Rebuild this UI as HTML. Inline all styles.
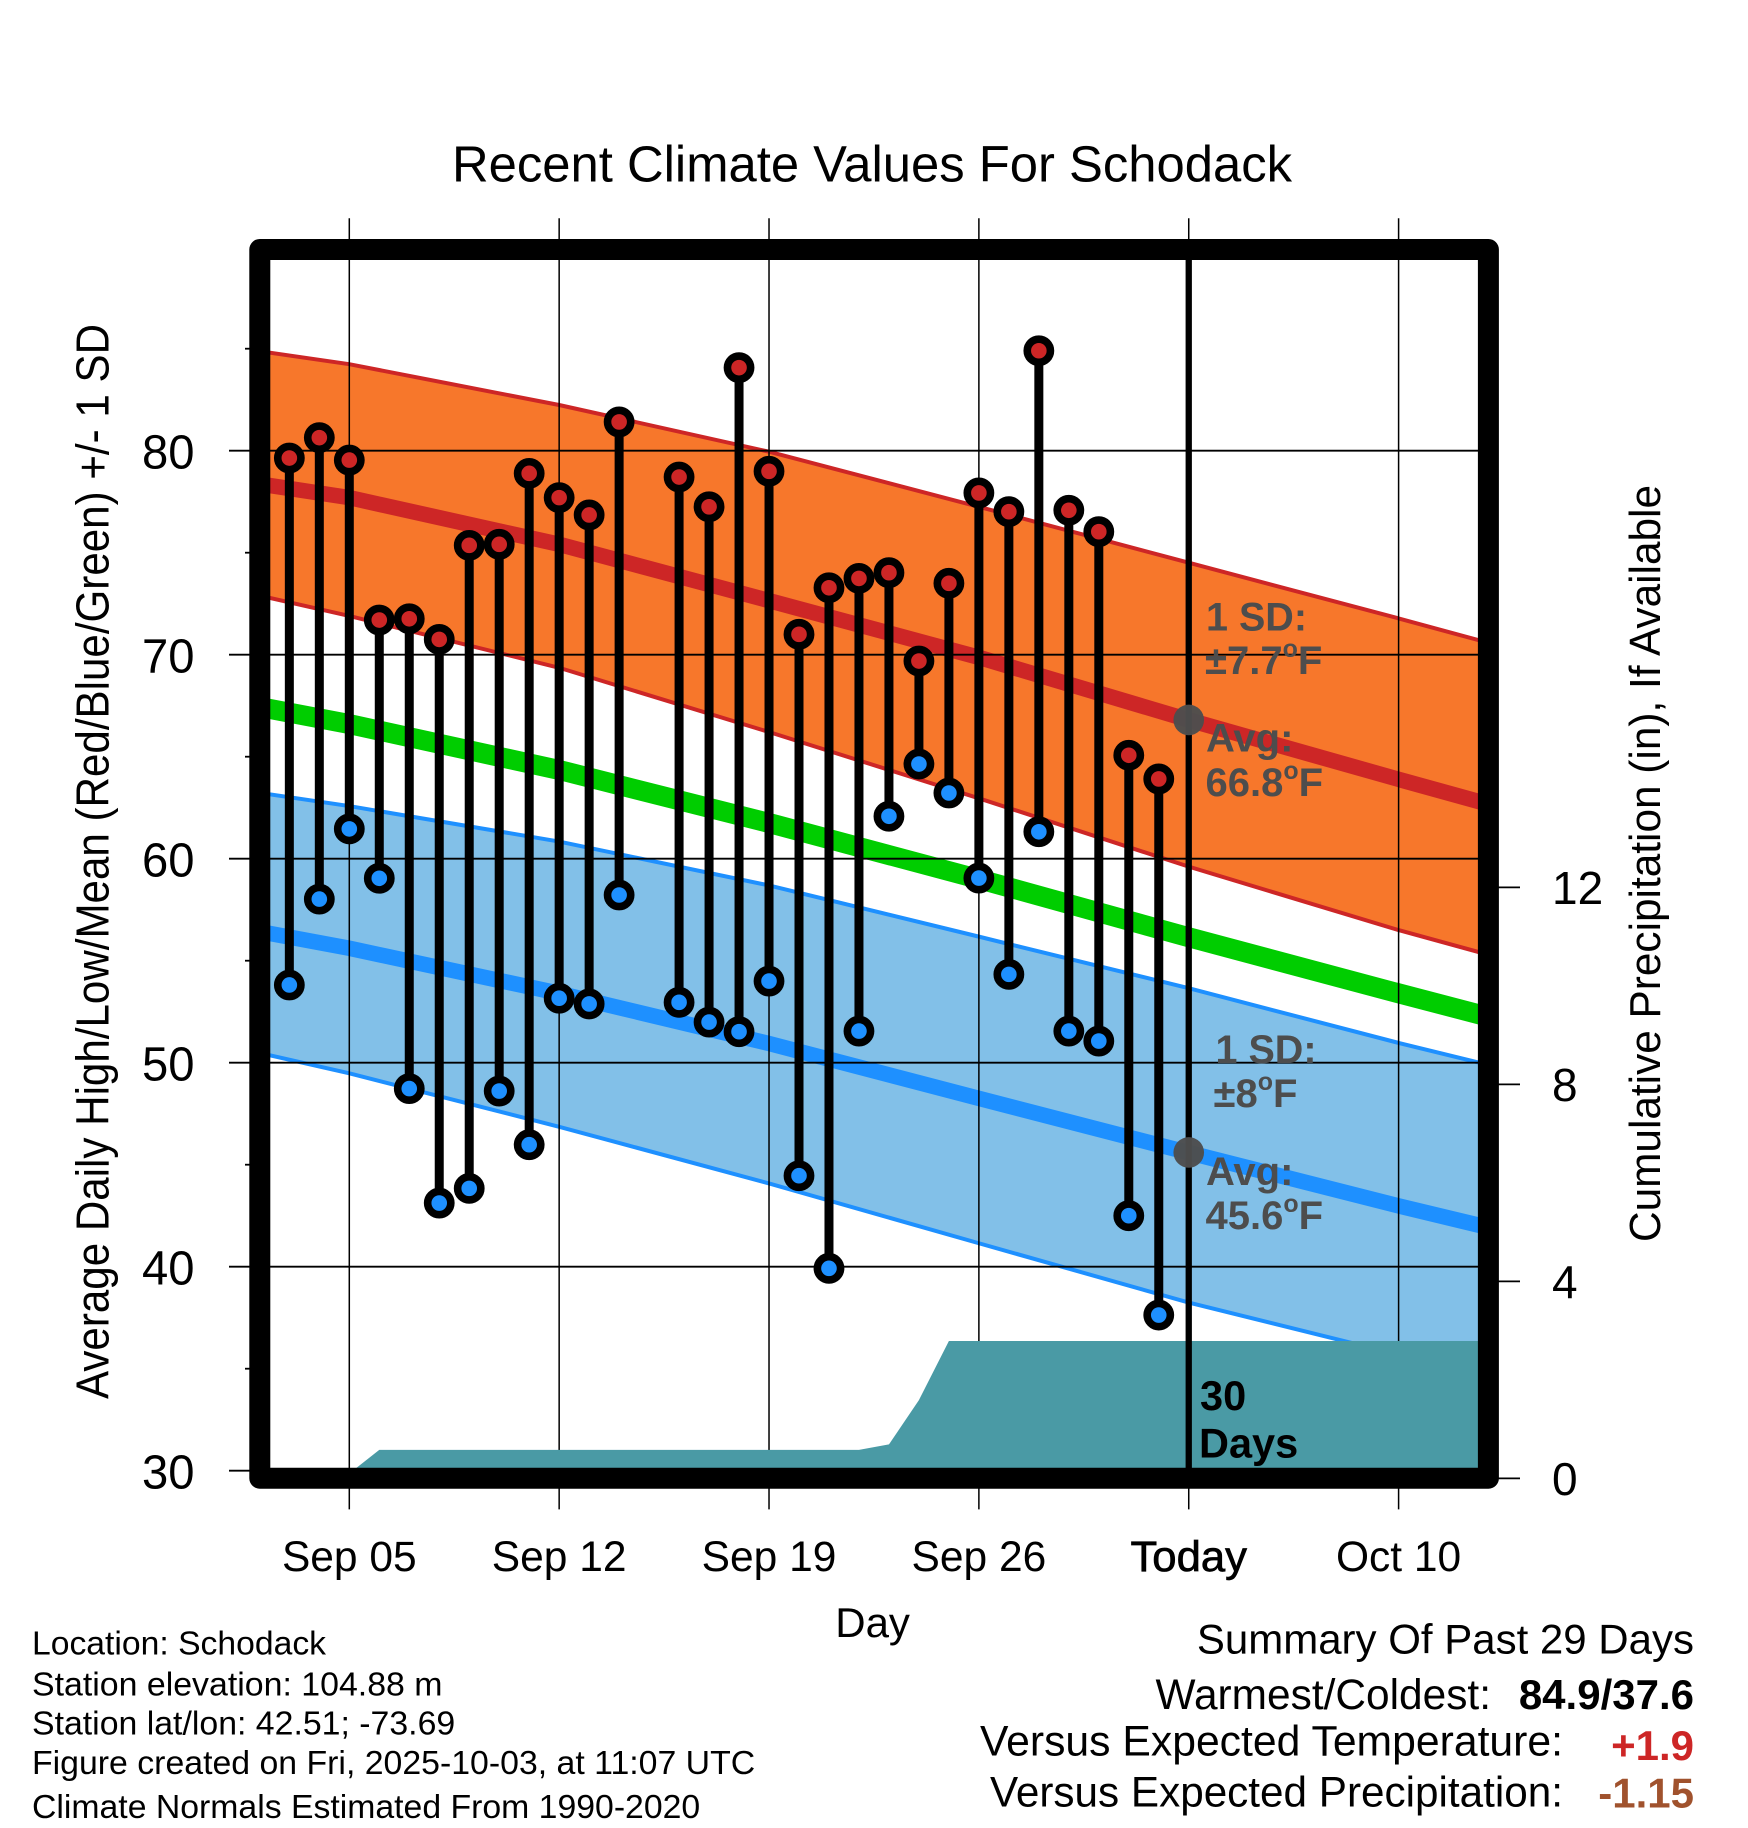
<!DOCTYPE html>
<html lang="en">
<head>
<meta charset="utf-8">
<title>Recent Climate Values For Schodack</title>
<style>
html,body{margin:0;padding:0;background:#fff;}
svg{display:block;}
text{font-family:"Liberation Sans",Arial,Helvetica,sans-serif;fill:#000;}
.b{font-weight:bold;}
.g{fill:#4d4d4d;font-weight:bold;}
</style>
</head>
<body>
<svg id="chart" xmlns="http://www.w3.org/2000/svg" width="1748" height="1828" viewBox="0 0 1748 1828">
  <defs>
    <clipPath id="plot-clip"><rect x="260" y="250" width="1228" height="1228"></rect></clipPath>
  </defs>
  <rect x="0" y="0" width="1748" height="1828" fill="#fff"></rect>

  <g id="layer-bands" clip-path="url(#plot-clip)"></g>
  <g id="layer-grid"></g>
  <g id="layer-precip" clip-path="url(#plot-clip)"></g>
  <line id="today-line" stroke="#000" stroke-width="6.3"></line>
  <g id="layer-temps"></g>
  <g id="layer-today"></g>

  <rect x="259.8" y="249.5" width="1228.6" height="1228.7" fill="none" stroke="#000" stroke-width="21" stroke-linejoin="round"></rect>
  <g id="layer-ticks"></g>

  <text x="452" y="181.7" font-size="51" textLength="840" lengthAdjust="spacingAndGlyphs">Recent Climate Values For Schodack</text>
  <text transform="translate(108.5,861.5) rotate(-90)" text-anchor="middle" font-size="46.5" textLength="1075" lengthAdjust="spacingAndGlyphs">Average Daily High/Low/Mean (Red/Blue/Green) +/- 1 SD</text>
  <text transform="translate(1660,863.5) rotate(-90)" text-anchor="middle" font-size="44" textLength="757" lengthAdjust="spacingAndGlyphs">Cumulative Precipitation (in), If Available</text>
  <text x="872.6" y="1637" text-anchor="middle" font-size="42">Day</text>

  <text class="g" x="1206" y="630.7" font-size="39.5">1 SD:</text>
  <text class="g" x="1205" y="674" font-size="40">±7.7<tspan font-size="25" dy="-17">o</tspan><tspan dy="17">F</tspan></text>
  <text class="g" x="1206" y="751.7" font-size="40">Avg:</text>
  <text class="g" x="1205.5" y="796" font-size="40">66.8<tspan font-size="25" dy="-17">o</tspan><tspan dy="17">F</tspan></text>
  <text class="g" x="1215.5" y="1063" font-size="39.5">1 SD:</text>
  <text class="g" x="1213.5" y="1107" font-size="40">±8<tspan font-size="25" dy="-17">o</tspan><tspan dy="17">F</tspan></text>
  <text class="g" x="1206" y="1185" font-size="40">Avg:</text>
  <text class="g" x="1205.5" y="1229" font-size="40">45.6<tspan font-size="25" dy="-17">o</tspan><tspan dy="17">F</tspan></text>
  <text class="b" x="1200" y="1410" font-size="41.5">30</text>
  <text class="b" x="1199" y="1457.5" font-size="41.5">Days</text>

  <text x="32" y="1654.5" font-size="33.5" textLength="294" lengthAdjust="spacingAndGlyphs">Location: Schodack</text>
  <text x="32" y="1695.6" font-size="33.5" textLength="410.5" lengthAdjust="spacingAndGlyphs">Station elevation: 104.88 m</text>
  <text x="32" y="1734.7" font-size="33.5" textLength="423.2" lengthAdjust="spacingAndGlyphs">Station lat/lon: 42.51; -73.69</text>
  <text x="32" y="1774" font-size="33.5" textLength="723.2" lengthAdjust="spacingAndGlyphs">Figure created on Fri, 2025-10-03, at 11:07 UTC</text>
  <text x="32" y="1817.8" font-size="33.5" textLength="668.2" lengthAdjust="spacingAndGlyphs">Climate Normals Estimated From 1990-2020</text>

  <text x="1694" y="1653.5" text-anchor="end" font-size="42">Summary Of Past 29 Days</text>
  <text x="1491" y="1709" text-anchor="end" font-size="42.5" textLength="335.5" lengthAdjust="spacingAndGlyphs">Warmest/Coldest:</text>
  <text class="b" x="1694" y="1709" text-anchor="end" font-size="42">84.9/37.6</text>
  <text x="1563" y="1755.6" text-anchor="end" font-size="42.5" textLength="583" lengthAdjust="spacingAndGlyphs">Versus Expected Temperature:</text>
  <text class="b" style="fill:#cd2626" x="1694" y="1760" text-anchor="end" font-size="42">+1.9</text>
  <text x="1563" y="1806.7" text-anchor="end" font-size="42.5" textLength="573" lengthAdjust="spacingAndGlyphs">Versus Expected Precipitation:</text>
  <text class="b" style="fill:#a0522d" x="1694" y="1807.6" text-anchor="end" font-size="42">-1.15</text>
</svg>

<script>
// ---- Data ----
const normalDays   = [-3, 0, 7, 14, 21, 28, 35, 38];
const highPlusSD   = [84.88, 84.24, 82.24, 79.95, 77.25, 74.51, 71.78, 70.58];
const highMean     = [78.37, 77.70, 75.41, 72.65, 69.87, 66.80, 63.89, 62.67];
const highMinusSD  = [72.90, 71.90, 69.36, 66.21, 62.96, 59.61, 56.50, 55.29];
const overallMean  = [67.44, 66.60, 64.35, 61.75, 59.00, 56.15, 53.40, 52.25];
const lowPlusSD    = [63.23, 62.58, 60.84, 58.69, 56.18, 53.65, 50.97, 49.89];
const lowMean      = [56.43, 55.61, 53.40, 50.94, 48.25, 45.59, 42.98, 41.92];
const lowMinusSD   = [50.48, 49.48, 46.86, 44.08, 41.15, 38.24, 35.69, 34.6];

const obsDays  = [-2, -1, 0, 1, 2, 3, 4, 5, 6, 7, 8, 9, 11, 12, 13, 14, 15, 16, 17, 18, 19, 20, 21, 22, 23, 24, 25, 26, 27];
const obsHighs = [79.64, 80.64, 79.54, 71.7, 71.76, 70.75, 75.36, 75.41, 78.89, 77.7, 76.85, 81.41, 78.71, 77.25, 84.07, 78.99, 71.0, 73.28, 73.74, 74.02, 69.69, 73.5, 77.93, 77.01, 84.9, 77.08, 76.03, 65.07, 63.91];
const obsLows  = [53.81, 58.02, 61.46, 59.04, 48.73, 43.12, 43.84, 48.61, 45.98, 53.16, 52.88, 58.22, 52.96, 51.99, 51.52, 54.0, 44.46, 39.92, 51.55, 62.08, 64.64, 63.22, 59.05, 54.33, 61.32, 51.55, 51.06, 42.5, 37.63];

const precipDays   = [0, 1, 17, 18, 19, 20, 38];
const precipValues = [0.1, 0.58, 0.58, 0.69, 1.59, 2.79, 2.79];

const todayDay = 28;
const todayNormals = [66.8, 45.6];

const yMajorTicks = [30, 40, 50, 60, 70, 80];
const yMinorTicks = [35, 45, 55, 65, 75, 85];
const precipTicks = [0, 4, 8, 12];
const xTickDays   = [0, 7, 14, 21, 28, 35];
const xTickLabels = ['Sep 05', 'Sep 12', 'Sep 19', 'Sep 26', 'Today', 'Oct 10'];

// ---- Axis functions ----
const NS = 'http://www.w3.org/2000/svg';
function xDay(d) { return 349.3 + d * 29.98; }
function yTemp(v) { return 450.7 + (80 - v) * 20.4; }
function yPrecip(p) { return 1478.4 - p * 49.25; }

function pts(days, vals, xf, yf) {
  return days.map(function (d, i) { return xf(d).toFixed(2) + ',' + yf(vals[i]).toFixed(2); });
}
function make(tag, parent, attrs) {
  const n = document.createElementNS(NS, tag);
  Object.keys(attrs).forEach(function (k) { n.setAttribute(k, attrs[k]); });
  parent.appendChild(n);
  return n;
}

// ---- Bands ----
const bands = document.getElementById('layer-bands');
let el;

el = make('polygon', bands, {
  points: pts(normalDays, highPlusSD, xDay, yTemp).concat(pts(normalDays, highMinusSD, xDay, yTemp).reverse()).join(' '),
  fill: '#f7772b'
});



el = make('polygon', bands, {
  points: pts(normalDays, lowPlusSD, xDay, yTemp).concat(pts(normalDays, lowMinusSD, xDay, yTemp).reverse()).join(' '),
  fill: '#82c0e8'
});



el = make('polyline', bands, { points: pts(normalDays, highPlusSD, xDay, yTemp).join(' '), fill: 'none', stroke: '#cd2626', 'stroke-width': 4 });



el = make('polyline', bands, { points: pts(normalDays, highMinusSD, xDay, yTemp).join(' '), fill: 'none', stroke: '#cd2626', 'stroke-width': 4 });



el = make('polyline', bands, { points: pts(normalDays, highMean, xDay, yTemp).join(' '), fill: 'none', stroke: '#cd2626', 'stroke-width': 15.5 });



el = make('polyline', bands, { points: pts(normalDays, overallMean, xDay, yTemp).join(' '), fill: 'none', stroke: '#00cd00', 'stroke-width': 20 });



el = make('polyline', bands, { points: pts(normalDays, lowPlusSD, xDay, yTemp).join(' '), fill: 'none', stroke: '#1e90ff', 'stroke-width': 4 });



el = make('polyline', bands, { points: pts(normalDays, lowMinusSD, xDay, yTemp).join(' '), fill: 'none', stroke: '#1e90ff', 'stroke-width': 4 });



el = make('polyline', bands, { points: pts(normalDays, lowMean, xDay, yTemp).join(' '), fill: 'none', stroke: '#1e90ff', 'stroke-width': 15.5 });



// ---- Grid ----
const grid = document.getElementById('layer-grid');
yMajorTicks.forEach(function (v) {
  const g = make('line', grid, { x1: 229, x2: 1478, y1: yTemp(v), y2: yTemp(v), stroke: '#000', 'stroke-width': 1.8 });
  
  
});
xTickDays.forEach(function (d) {
  const g = make('line', grid, { x1: xDay(d), x2: xDay(d), y1: 218.3, y2: 1509.4, stroke: '#000', 'stroke-width': 1.5 });
  
  
});

// ---- Precipitation ----
const precip = document.getElementById('layer-precip');
el = make('polygon', precip, {
  points: pts(precipDays, precipValues, xDay, yPrecip).concat([xDay(38) + ',' + yPrecip(0), xDay(0) + ',' + yPrecip(0)]).join(' '),
  fill: '#4a9aa5'
});



// ---- Today line ----
const todayLine = document.getElementById('today-line');
todayLine.setAttribute('x1', xDay(todayDay));
todayLine.setAttribute('x2', xDay(todayDay));
todayLine.setAttribute('y1', 255);
todayLine.setAttribute('y2', 1472);

// ---- Observed temperature ranges ----
const temps = document.getElementById('layer-temps');
obsDays.forEach(function (d, i) {
  const x = xDay(d);
  const stem = make('line', temps, { x1: x, x2: x, y1: yTemp(obsHighs[i]), y2: yTemp(obsLows[i]), stroke: '#000', 'stroke-width': 9 });
  
  
});
obsDays.forEach(function (d, i) {
  const x = xDay(d);
  const hi = make('circle', temps, { cx: x, cy: yTemp(obsHighs[i]), r: 11.6, fill: '#cd2626', stroke: '#000', 'stroke-width': 7.6 });
  
  
  const lo = make('circle', temps, { cx: x, cy: yTemp(obsLows[i]), r: 11.6, fill: '#1e90ff', stroke: '#000', 'stroke-width': 7.6 });
  
  
});

// ---- Today's normal markers ----
const todayLayer = document.getElementById('layer-today');
todayNormals.forEach(function (v) {
  const c = make('circle', todayLayer, { cx: xDay(todayDay), cy: yTemp(v), r: 15.3, fill: '#4d4d4d', 'fill-opacity': 0.97 });
  
  
});

// ---- Ticks and tick labels ----
const ticks = document.getElementById('layer-ticks');
yMinorTicks.forEach(function (v) {
  const t = make('line', ticks, { x1: 245, x2: 252, y1: yTemp(v), y2: yTemp(v), stroke: '#000', 'stroke-width': 1.8 });
  
  
});
yMajorTicks.forEach(function (v) {
  const l = make('text', ticks, { x: 194.5, y: yTemp(v) + 18, 'text-anchor': 'end', 'font-size': 48.5, textLength: 52.5, lengthAdjust: 'spacingAndGlyphs' });
  l.textContent = String(v);
  
  
});
precipTicks.forEach(function (p) {
  const t = make('line', ticks, { x1: 1497, x2: 1520, y1: yPrecip(p), y2: yPrecip(p), stroke: '#000', 'stroke-width': 1.8 });
  
  
  const l = make('text', ticks, { x: 1552, y: yPrecip(p) + 16.8, 'font-size': 46 });
  l.textContent = String(p);
  
  
});
xTickDays.forEach(function (d, i) {
  const l = make('text', ticks, { x: xDay(d), y: 1571, 'text-anchor': 'middle', 'font-size': 42.5 });
  l.textContent = xTickLabels[i];
  
  
  if (d === todayDay) {
    l.setAttribute('textLength', 116.5);
    l.setAttribute('lengthAdjust', 'spacingAndGlyphs');
    l.setAttribute('stroke', '#000');
    l.setAttribute('stroke-width', 0.7);
  }
});
</script>
</body>
</html>
